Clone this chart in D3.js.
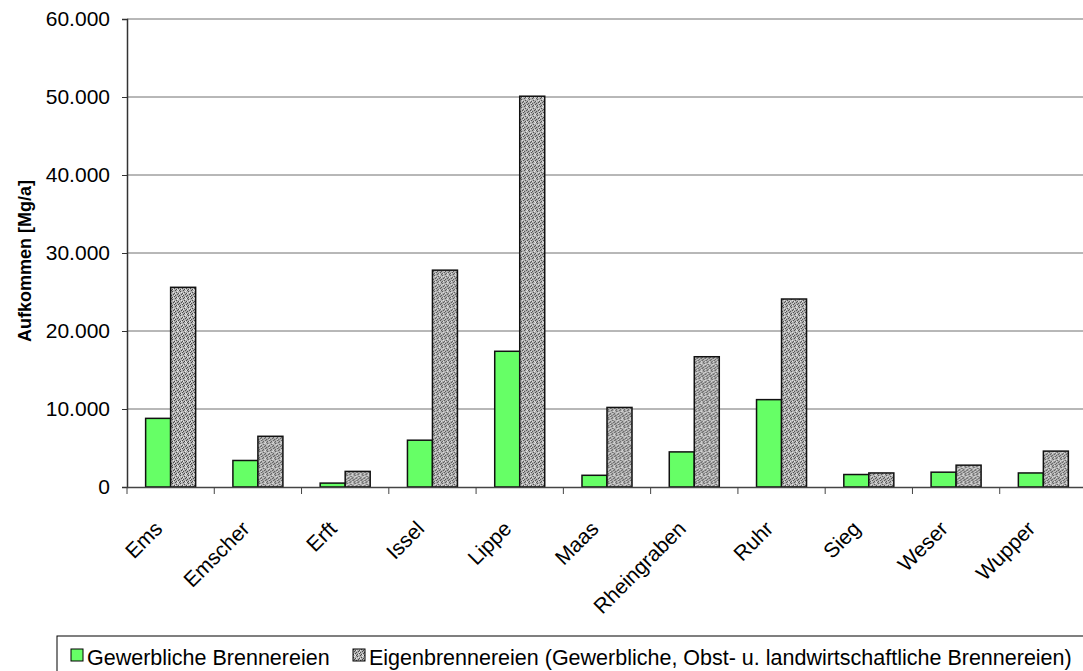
<!DOCTYPE html>
<html>
<head>
<meta charset="utf-8">
<script src="https://cdn.jsdelivr.net/npm/d3@7"></script>
<style>
  body { margin: 0; background: #fff; }
  svg { display: block; font-family: "Liberation Sans", Arial, sans-serif; }
</style>
</head>
<body>
<div id="chart"></div>
<script>
const rivers = ["Ems", "Emscher", "Erft", "Issel", "Lippe", "Maas", "Rheingraben", "Ruhr", "Sieg", "Weser", "Wupper"];
const gewerbliche = [8800, 3400, 500, 6000, 17400, 1500, 4500, 11200, 1600, 1900, 1800];
const eigen = [25600, 6500, 2000, 27800, 50100, 10200, 16700, 24100, 1800, 2800, 4600];
const yTicks = [0, 10000, 20000, 30000, 40000, 50000, 60000];
const seriesNames = ["Gewerbliche Brennereien", "Eigenbrennereien (Gewerbliche, Obst- u. landwirtschaftliche Brennereien)"];

const W = 1083, H = 671;
const margin = {top: 19, left: 127};
const plotW = 960, plotH = 468;

const svg = d3.select("#chart").append("svg")
    .attr("width", W).attr("height", H);

// grey speckle with small "/" streaks for the second series
const defs = svg.append("defs");
const pat = defs.append("pattern")
    .attr("id", "speckle")
    .attr("patternUnits", "userSpaceOnUse")
    .attr("width", 8).attr("height", 8);
pat.append("rect").attr("width", 8).attr("height", 8).attr("fill", "#b2b2b2");
const darkPx = [[0,7],[1,6],[4,7],[5,6],[2,3],[3,2],[6,3],[7,2],[1,1],[5,0],[3,5],[7,5],[0,4],[4,4]];
darkPx.forEach(p => {
  pat.append("rect").attr("x", p[0]).attr("y", p[1]).attr("width", 1).attr("height", 1).attr("fill", "#484848");
});
[[2,6],[6,6],[0,2],[4,2],[2,0],[6,1],[3,7],[7,4]].forEach(p => {
  pat.append("rect").attr("x", p[0]).attr("y", p[1]).attr("width", 1).attr("height", 1).attr("fill", "#e8e8e8");
});

const g = svg.append("g").attr("transform", `translate(${margin.left},${margin.top})`);

const x = d3.scaleBand().domain(rivers).range([0, plotW]);
const xs = d3.scaleBand().domain([0, 1]).range([0, x.bandwidth()]).paddingInner(0).paddingOuter(0.745);
const y = d3.scaleLinear().domain([0, 60000]).range([plotH, 0]);

// gridlines
g.selectAll(".grid").data(yTicks.filter(d => d > 0)).enter()
  .append("line")
  .attr("x1", 0).attr("x2", plotW)
  .attr("y1", d => y(d)).attr("y2", d => y(d))
  .attr("stroke", "#707070").attr("stroke-width", 1);

// bars
const fills = ["#66ff66", "url(#speckle)"];
const groups = g.selectAll(".cat").data(rivers).enter()
  .append("g").attr("transform", d => `translate(${x(d)},0)`);
groups.selectAll("rect")
  .data((d, i) => [gewerbliche[i], eigen[i]])
  .enter().append("rect")
  .attr("x", (d, j) => xs(j))
  .attr("width", xs.bandwidth())
  .attr("y", d => y(d))
  .attr("height", d => plotH - y(d))
  .attr("fill", (d, j) => fills[j])
  .attr("stroke", "#111").attr("stroke-width", 1.5);

// y axis
const yAxis = g.append("g")
  .call(d3.axisLeft(y).tickValues(yTicks).tickSize(5).tickPadding(12)
    .tickFormat(d => d3.format(",")(d).replace(/,/g, ".")));
yAxis.select(".domain").attr("stroke", "#333").attr("stroke-width", 1.5);
yAxis.selectAll(".tick line").attr("stroke", "#333");
yAxis.selectAll("text").attr("font-size", 21).attr("fill", "#000")
  .attr("font-family", "Liberation Sans, Arial, sans-serif");

// x axis with separators between categories
const xAxis = g.append("g").attr("transform", `translate(0,${plotH})`)
  .call(d3.axisBottom(x).tickSize(0).tickFormat(""));
xAxis.select(".domain").attr("stroke", "#444").attr("stroke-width", 1.5);
xAxis.selectAll(".tick").remove();
xAxis.selectAll(".sep").data(rivers).enter()
  .append("line")
  .attr("x1", d => x(d)).attr("x2", d => x(d))
  .attr("y1", 0).attr("y2", 7)
  .attr("stroke", "#444");

g.selectAll(".xlab").data(rivers).enter()
  .append("text")
  .attr("font-size", 21)
  .attr("text-anchor", "end")
  .attr("transform", d => `translate(${x(d) + x.bandwidth() / 2 - 7},${plotH + 43}) rotate(-45)`)
  .text(d => d);

// y axis title
svg.append("text")
  .attr("transform", `translate(31,${margin.top + plotH / 2 + 8}) rotate(-90)`)
  .attr("text-anchor", "middle")
  .attr("font-size", 18).attr("font-weight", "bold")
  .text("Aufkommen [Mg/a]");

// legend
const leg = svg.append("g");
leg.append("rect")
  .attr("x", 57).attr("y", 636).attr("width", 1040).attr("height", 50)
  .attr("fill", "#fff").attr("stroke", "#000").attr("stroke-width", 1);
const legX = [71, 353];
seriesNames.forEach((name, i) => {
  leg.append("rect")
    .attr("x", legX[i]).attr("y", 649).attr("width", 12).attr("height", 12)
    .attr("fill", fills[i]).attr("stroke", "#000").attr("stroke-width", 1);
  leg.append("text")
    .attr("x", legX[i] + 16).attr("y", 665)
    .attr("font-size", 21.5)
    .text(name);
});
</script>
</body>
</html>
